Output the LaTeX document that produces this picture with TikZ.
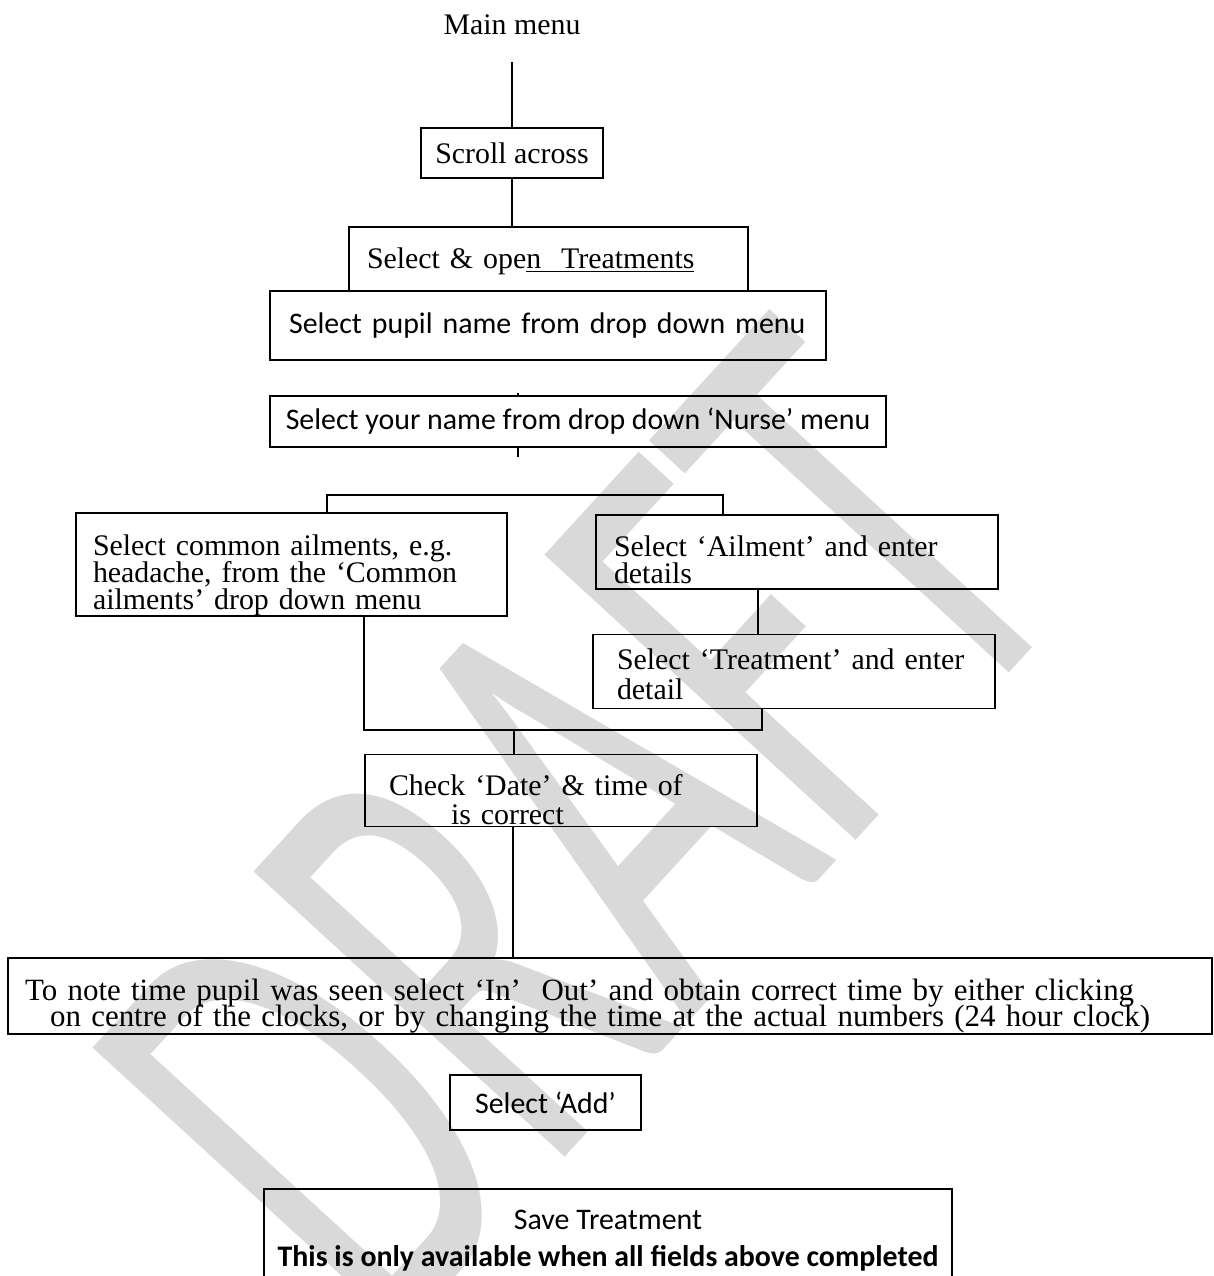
\documentclass[tikz,border=0pt]{standalone}
\usepackage{fontspec}
\setmainfont{Liberation Serif}
\newfontfamily\calibri{Carlito}
\newcommand\tightlines{\lineskiplimit=-20pt\relax}
\definecolor{wmgray}{RGB}{217,217,217}

\begin{document}
\begin{tikzpicture}[
      x=0.02cm, y=-0.02cm,
      box/.style={draw, line width=1.1pt, inner ysep=0pt},
      serif/.style={font=\fontsize{17}{15.4}\selectfont\tightlines},
      sans/.style={font=\calibri\fontsize{17}{17}\selectfont},
      link/.style={line width=1.1pt}
    ]
        \path[use as bounding box] (0,0) rectangle (1214,1276);
        \node[text=wmgray, font=\calibri\fontsize{219}{219}\selectfont, rotate=47.5, inner sep=0pt] (draft) at (580,829) {\scalebox{1}[1.71]{DRAFT}};

        \node[serif, minimum height=1.48cm] (menu) at (512,25) {Main menu};
        \node[box, serif, minimum width=3.64cm, minimum height=1cm] (scroll) at (512,153) {Scroll across};
        \node[box, serif, align=left, text width=7.26cm, inner xsep=0.36cm, minimum height=1.28cm] (open) at (548.5,259) {\rule{0pt}{0.5cm}Select \& ope\underline{n\ \ Treatments}};
        \node[box, sans, align=left, text width=10.36cm, inner xsep=0.38cm, minimum height=1.38cm] (pupil) at (548,325.5) {Select pupil name from drop down menu};
        \node[box, sans, minimum width=12.32cm, minimum height=1.02cm] (nurse) at (578,421.5) {Select your name from drop down ‘Nurse’ menu};
        \node[box, serif, align=left, text width=7.94cm, inner xsep=0.34cm, minimum height=2.0cm] (ail) at (291.5,564.5) {\rule{0pt}{0.86cm}Select common ailments, e.g.\\ headache, from the ‘Common\\ ailments’ drop down menu};
        \node[box, serif, align=left, text width=7.32cm, inner xsep=0.36cm, minimum height=1.48cm] (ent) at (797,552) {\rule{0pt}{0.73cm}Select ‘Ailment’ and enter\\ details};
        \node[box, serif, font=\fontsize{17}{17}\selectfont\tightlines, align=left, text width=7.08cm, inner xsep=0.48cm, minimum height=1.48cm] (trt) at (794,671.5) {\rule{0pt}{0.53cm}Select ‘Treatment’ and enter\\ detail};
        \node[box, serif, font=\fontsize{17}{16.5}\selectfont\tightlines, align=left, text width=6.88cm, inner xsep=0.48cm, minimum height=1.44cm] (chk) at (561,790.5) {\rule{0pt}{0.79cm}Check ‘Date’ \& time of\\ \hspace*{1.24cm}is correct};
        \node[box, serif, font=\fontsize{17.6}{14.8}\selectfont\tightlines, align=left, text width=23.4cm, inner xsep=0.34cm, minimum height=1.44cm] (note) at (610,996) {\rule{0pt}{0.85cm}To note time pupil was seen select ‘In’\ \ Out’ and obtain correct time by either clicking\\ \hspace*{0.5cm}on centre of the clocks, or by changing the time at the actual numbers (24 hour clock)};
        \node[box, sans, minimum width=3.82cm, minimum height=1.1cm] (add) at (545.5,1102.5) {Select ‘Add’};
        \node[box, sans, font=\calibri\fontsize{17}{21}\selectfont, align=center, minimum width=13.76cm, minimum height=2.06cm] (save) at (608,1240.5) {Save Treatment\\ \textbf{This is only available when all fields above completed}};

        \coordinate (stubtop) at (518,393);
        \coordinate (stubbot) at (518,457);
        \coordinate (splitl) at (327,495);
        \coordinate (splitr) at (723,495);
        \coordinate (trtx) at (758,600);
        \coordinate (joinl) at (364,730);
        \coordinate (joinm) at (514,730);
        \coordinate (joinr) at (762,730);
        \coordinate (chkx) at (513,900);

        \draw[link] (menu.south) -- (scroll.north);
        \draw[link] (scroll.south) -- (scroll.south |- open.north);
        \draw[link] (stubtop) -- (nurse.north -| stubtop);
        \draw[link] (nurse.south -| stubbot) -- (stubbot);
        \draw[link] (ail.north -| splitl) -- (splitl) -- (splitr) -- (ent.north -| splitr);
        \draw[link] (ent.south -| trtx) -- (trt.north -| trtx);
        \draw[link] (ail.south -| joinl) -- (joinl) -- (joinr) -- (trt.south -| joinr);
        \draw[link] (joinm) -- (chk.north -| joinm);
        \draw[link] (chk.south -| chkx) -- (note.north -| chkx);
    \end{tikzpicture}
\end{document}
